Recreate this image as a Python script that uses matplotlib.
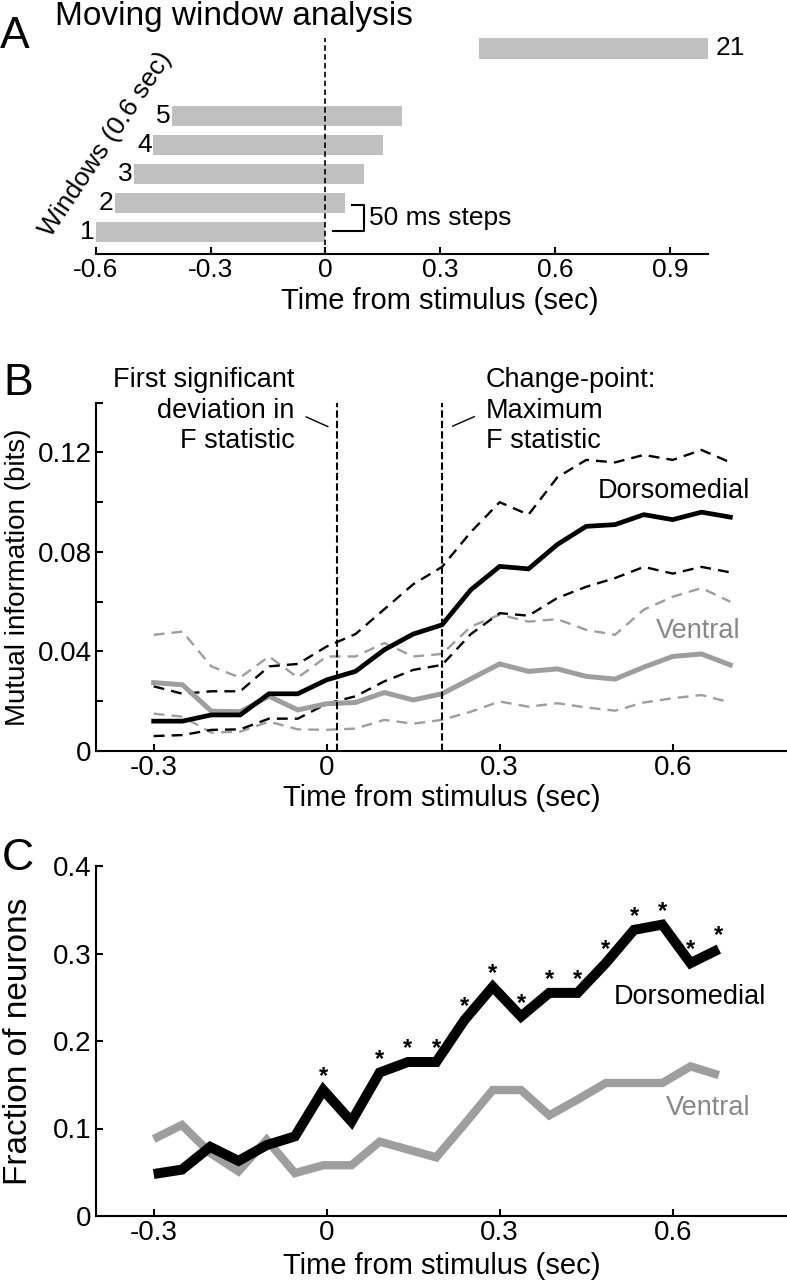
import numpy as np
import matplotlib.pyplot as plt

plt.rcParams['font.family'] = ['Liberation Sans', 'DejaVu Sans']

W, H = 787, 1280

# ---- Panel A: moving windows ----
win_labels = ['1', '2', '3', '4', '5', '21']
win_start = [-0.60, -0.55, -0.50, -0.45, -0.40, 0.40]
win_row = [1, 2, 3, 4, 5, 7.32]
win_len = 0.6

# ---- Panel B: mutual information ----
t_b = [-0.30, -0.25, -0.20, -0.15, -0.10, -0.05, 0.00, 0.05, 0.10, 0.15, 0.20,
       0.25, 0.30, 0.35, 0.40, 0.45, 0.50, 0.55, 0.60, 0.65, 0.70]
mi_dm = [0.012, 0.012, 0.0145, 0.0145, 0.023, 0.023, 0.0286, 0.032, 0.0407, 0.047, 0.0507,
         0.0648, 0.0742, 0.0732, 0.083, 0.0903, 0.091, 0.095, 0.093, 0.096, 0.094]
mi_dm_hi = [0.026, 0.023, 0.024, 0.024, 0.034, 0.035, 0.042, 0.047, 0.057, 0.067, 0.074,
            0.088, 0.100, 0.095, 0.110, 0.117, 0.116, 0.119, 0.117, 0.121, 0.116]
mi_dm_lo = [0.006, 0.0064, 0.0085, 0.0087, 0.013, 0.013, 0.019, 0.022, 0.028, 0.0326, 0.0346,
            0.047, 0.0554, 0.0544, 0.0615, 0.066, 0.0695, 0.074, 0.0713, 0.074, 0.0718]
mi_v = [0.0275, 0.0266, 0.016, 0.0158, 0.022, 0.0165, 0.019, 0.0195, 0.0235, 0.0205, 0.023,
        0.029, 0.035, 0.032, 0.033, 0.030, 0.0289, 0.0337, 0.038, 0.039, 0.0346]
mi_v_hi = [0.0467, 0.048, 0.034, 0.0295, 0.038, 0.0295, 0.038, 0.038, 0.0434, 0.038, 0.039,
           0.050, 0.0548, 0.052, 0.053, 0.0487, 0.0467, 0.0568, 0.062, 0.0655, 0.060]
mi_v_lo = [0.015, 0.0138, 0.0074, 0.0078, 0.0118, 0.0087, 0.0085, 0.009, 0.0125, 0.011, 0.0125,
           0.0158, 0.0199, 0.0178, 0.0192, 0.0175, 0.0162, 0.0195, 0.0212, 0.0225, 0.0195]
first_sig = 0.018
change_pt = 0.20

# ---- Panel C: fraction of neurons ----
t_c = [-0.300, -0.251, -0.202, -0.153, -0.104, -0.055, -0.006, 0.043, 0.092, 0.141, 0.190,
       0.239, 0.288, 0.337, 0.386, 0.435, 0.484, 0.533, 0.582, 0.631, 0.680]
frac_dm = [0.048, 0.053, 0.079, 0.063, 0.081, 0.091, 0.144, 0.108, 0.164, 0.176, 0.176,
           0.224, 0.262, 0.228, 0.255, 0.255, 0.289, 0.327, 0.333, 0.289, 0.305]
frac_v = [0.088, 0.104, 0.072, 0.051, 0.087, 0.049, 0.058, 0.058, 0.085, 0.076, 0.067,
          0.105, 0.144, 0.144, 0.115, 0.133, 0.152, 0.152, 0.152, 0.171, 0.161]
sig_dm = [0, 0, 0, 0, 0, 0, 1, 0, 1, 1, 1, 1, 1, 1, 1, 1, 1, 1, 1, 1, 1]

GRAY = '#9e9e9e'
GRAY_TXT = '#888888'


def px_axes(left, right, top, bottom):
    return [left / W, 1 - bottom / H, (right - left) / W, (bottom - top) / H]


def style(ax, left=True):
    for s in ['top', 'right']:
        ax.spines[s].set_visible(False)
    ax.spines['left'].set_visible(left)
    ax.spines['bottom'].set_linewidth(1.5)
    ax.spines['left'].set_linewidth(1.5)
    ax.tick_params(direction='in', length=5, width=1.5, pad=3)


fig = plt.figure(figsize=(W / 100, H / 100), dpi=100)

# ---------- A ----------
axA = fig.add_axes(px_axes(95.7, 708.3, 38.3, 254))
axA.barh(win_row, win_len, left=win_start, height=0.71, color='#c0c0c0')
axA.axvline(0, color='k', lw=1.2, ls=(0, (3.3, 2)))
for lab, st, row in zip(win_labels, win_start, win_row):
    if lab == '21':
        axA.text(st + win_len + 0.018, row, lab, ha='left', va='center', fontsize=19)
    else:
        axA.text(st - 0.004, row, lab, ha='right', va='center', fontsize=19)
axA.plot([0.019, 0.1, 0.1, 0.07], [1.03, 1.03, 1.94, 1.94], color='k', lw=1.5)
axA.text(0.113, 1.48, '50 ms steps', ha='left', va='center', fontsize=19)
axA.set_xlim(-0.6, 1.0)
axA.set_ylim(0.243, 7.67)
axA.set_xticks([-0.6, -0.3, 0, 0.3, 0.6, 0.9])
axA.set_xticklabels(['-0.6', '-0.3', '0', '0.3', '0.6', '0.9'])
axA.set_yticks([])
style(axA, left=False)
axA.tick_params(labelsize=19)
fig.text(440 / W, 1 - 309 / H, 'Time from stimulus (sec)', ha='center', va='baseline', fontsize=21)
fig.text(106 / W, 1 - 144 / H, 'Windows (0.6 sec)', ha='center', va='center',
         rotation=56, fontsize=19)
fig.text(55 / W, 1 - 25 / H, 'Moving window analysis', ha='left', va='baseline', fontsize=24)
fig.text(0, 1 - 48 / H, 'A', ha='left', va='baseline', fontsize=32)

# ---------- B ----------
axB = fig.add_axes(px_axes(96, 788, 402.7, 751))
dash_ci = (0, (4.6, 3.0))
axB.plot(t_b, mi_v_hi, color=GRAY, lw=1.7, ls=dash_ci)
axB.plot(t_b, mi_v_lo, color=GRAY, lw=1.7, ls=dash_ci)
axB.plot(t_b, mi_dm_hi, color='k', lw=1.7, ls=dash_ci)
axB.plot(t_b, mi_dm_lo, color='k', lw=1.7, ls=dash_ci)
axB.plot(t_b, mi_v, color=GRAY, lw=3.6, solid_joinstyle='miter')
axB.plot(t_b, mi_dm, color='k', lw=3.4, solid_joinstyle='miter')
axB.axvline(first_sig, color='k', lw=1.5, ls=(0, (3.5, 1.5)))
axB.axvline(change_pt, color='k', lw=1.5, ls=(0, (3.5, 1.5)))
axB.set_xlim(-0.4, 0.8)
axB.set_ylim(0, 0.14)
axB.set_xticks([-0.3, 0, 0.3, 0.6])
axB.set_xticklabels(['-0.3', '0', '0.3', '0.6'])
axB.set_yticks(np.arange(0, 0.141, 0.02))
axB.set_yticklabels(['0', '', '0.04', '', '0.08', '', '0.12', ''])
style(axB)
axB.tick_params(labelsize=20)
axB.set_ylabel('Mutual information (bits)', fontsize=20)
axB.yaxis.set_label_coords(-0.094, 0.5)
axB.set_xlabel('Time from stimulus (sec)', fontsize=21, labelpad=2)

left_txt = ['First significant', 'deviation in', 'F statistic']
right_txt = ['Change-point:', 'Maximum', 'F statistic']
line_y = [0.1462, 0.1337, 0.1217]
for s, y in zip(left_txt, line_y):
    axB.text(-0.0558, y, s, ha='right', va='baseline', fontsize=19.5)
for s, y in zip(right_txt, line_y):
    axB.text(0.276, y, s, ha='left', va='baseline', fontsize=19.5)
axB.plot([-0.0355, 0.002], [0.1343, 0.1304], color='k', lw=1.0, clip_on=False)
axB.plot([0.2187, 0.256], [0.1306, 0.1344], color='k', lw=1.0, clip_on=False)
axB.text(0.470, 0.1018, 'Dorsomedial', ha='left', va='baseline', fontsize=19.5)
axB.text(0.571, 0.0454, 'Ventral', ha='left', va='baseline', fontsize=19.5, color=GRAY_TXT)
fig.text(3 / W, 1 - 395 / H, 'B', ha='left', va='baseline', fontsize=32)

# ---------- C ----------
axC = fig.add_axes(px_axes(96, 788, 866, 1216))
axC.plot(t_c, frac_v, color=GRAY, lw=6.0, solid_joinstyle='miter', solid_capstyle='butt')
axC.plot(t_c, frac_dm, color='k', lw=7.2, solid_joinstyle='miter', solid_capstyle='butt')
for t, f, s in zip(t_c, frac_dm, sig_dm):
    if s:
        axC.annotate('*', (t, f), xytext=(0, 5), textcoords='offset points',
                     ha='center', va='baseline', fontsize=17, fontweight='bold')
axC.set_xlim(-0.4, 0.8)
axC.set_ylim(0, 0.4)
axC.set_xticks([-0.3, 0, 0.3, 0.6])
axC.set_xticklabels(['-0.3', '0', '0.3', '0.6'])
axC.set_yticks([0, 0.1, 0.2, 0.3, 0.4])
axC.set_yticklabels(['0', '0.1', '0.2', '0.3', '0.4'])
style(axC)
axC.tick_params(labelsize=20)
axC.set_ylabel('Fraction of neurons', fontsize=24)
axC.yaxis.set_label_coords(-0.0896, 0.5)
axC.set_xlabel('Time from stimulus (sec)', fontsize=21, labelpad=4)
axC.text(0.4985, 0.2423, 'Dorsomedial', ha='left', va='baseline', fontsize=19.5)
axC.text(0.588, 0.1154, 'Ventral', ha='left', va='baseline', fontsize=19.5, color=GRAY_TXT)
fig.text(2 / W, 1 - 870 / H, 'C', ha='left', va='baseline', fontsize=32)

fig.savefig('out.png', dpi=100)
